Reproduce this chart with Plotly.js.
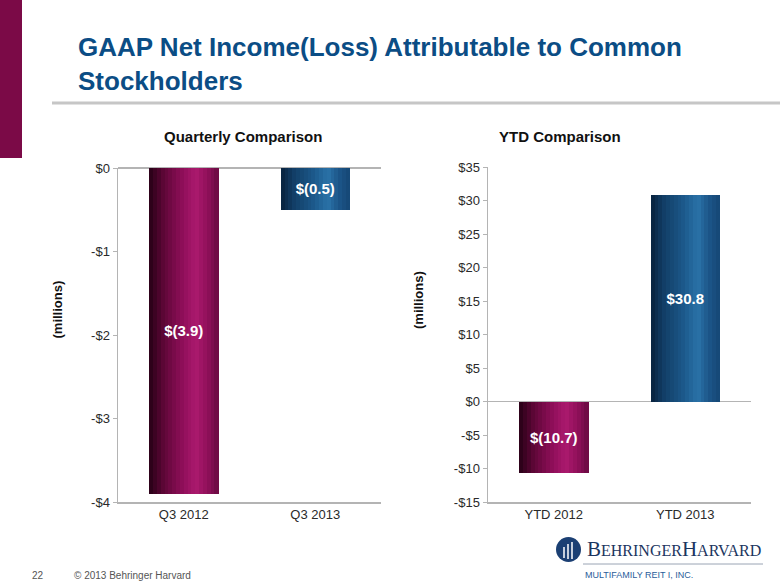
<!DOCTYPE html>
<html>
<head>
<meta charset="utf-8">
<script src="https://cdn.plot.ly/plotly-3.0.1.min.js"></script>
<style>html,body{margin:0;padding:0;background:#fff;}#chart{width:780px;height:585px;}</style>
</head>
<body>
<div id="chart"></div>
<script>
// ---- data ----
var qCategories = ["Q3 2012", "Q3 2013"];
var qValues = [-3.9, -0.5];
var qLabels = ["$(3.9)", "$(0.5)"];
var qTickVals = [0, -1, -2, -3, -4];
var qTickText = ["$0", "-$1", "-$2", "-$3", "-$4"];

var yCategories = ["YTD 2012", "YTD 2013"];
var yValues = [-10.7, 30.8];
var yLabels = ["$(10.7)", "$30.8"];
var yTickVals = [35, 30, 25, 20, 15, 10, 5, 0, -5, -10, -15];
var yTickText = ["$35", "$30", "$25", "$20", "$15", "$10", "$5", "$0", "-$5", "-$10", "-$15"];

// ---- styling helpers ----
var W = 780, H = 585;
function px(x) { return x / W; }
function py(y) { return 1 - y / H; }

function hexToRgb(h) { return [parseInt(h.substr(1,2),16), parseInt(h.substr(3,2),16), parseInt(h.substr(5,2),16)]; }
function grad(stops, t) {
  for (var i = 0; i < stops.length - 1; i++) {
    if (t >= stops[i][0] && t <= stops[i+1][0]) {
      var a = hexToRgb(stops[i][1]), b = hexToRgb(stops[i+1][1]);
      var f = (t - stops[i][0]) / (stops[i+1][0] - stops[i][0]);
      return 'rgb(' + [0,1,2].map(function(k){ return Math.round(a[k] + (b[k]-a[k])*f); }).join(',') + ')';
    }
  }
  return stops[stops.length-1][1];
}
var maroon = [[0,'#260015'],[0.2,'#5c0636'],[0.5,'#920f5c'],[0.68,'#ab1a6e'],[0.85,'#8e0f59'],[1,'#6a0a42']];
var blue = [[0,'#08223d'],[0.2,'#123f68'],[0.5,'#1d5b8e'],[0.68,'#2a72a8'],[0.85,'#1c5588'],[1,'#154674']];

var BW = 0.525, N = 18;
var traces = [];
function addBars(cats, vals, labels, xa, ya) {
  for (var i = 0; i < N; i++) {
    var t = (i + 0.5) / N;
    traces.push({
      type: 'bar', x: cats, y: vals, xaxis: xa, yaxis: ya,
      width: BW / N + 0.002, offset: -BW/2 + i * BW / N,
      marker: { color: vals.map(function(v, j){ return grad(j === 0 ? maroon : blue, t); }), line: {width: 0} },
      hoverinfo: 'skip', showlegend: false
    });
  }
  traces.push({
    type: 'bar', x: cats, y: vals, xaxis: xa, yaxis: ya,
    width: BW, text: labels, textposition: 'inside', insidetextanchor: 'middle',
    textfont: { family: 'Liberation Sans, Arial, sans-serif', size: 15, color: '#ffffff', weight: 'bold' },
    marker: { color: 'rgba(0,0,0,0)', line: {width: 0} },
    hoverinfo: 'skip', showlegend: false
  });
}
addBars(qCategories, qValues, qLabels, 'x', 'y');
addBars(yCategories, yValues, yLabels, 'x2', 'y2');

var axisGrey = '#b4b4b4';
var tickFont = { family: 'Liberation Sans, Arial, sans-serif', size: 13, color: '#2a2a2a' };
function xAxis(dom, anchor) {
  return { domain: dom, anchor: anchor, showline: true, linecolor: axisGrey, linewidth: 1.5,
    ticks: '', tickfont: tickFont, showgrid: false, zeroline: false, fixedrange: true };
}
function yAxis(dom, anchor, range, tv, tt) {
  return { domain: dom, anchor: anchor, range: range, tickvals: tv, ticktext: tt,
    ticks: 'outside', ticklen: 4, tickcolor: axisGrey, tickwidth: 1,
    showline: true, linecolor: axisGrey, linewidth: 1.5, showgrid: false,
    zeroline: true, zerolinecolor: axisGrey, zerolinewidth: 1.5, tickfont: tickFont, fixedrange: true };
}

var layout = {
  width: W, height: H, margin: {l: 0, r: 0, t: 0, b: 0},
  paper_bgcolor: '#ffffff', plot_bgcolor: '#ffffff',
  barmode: 'overlay', bargap: 0,
  xaxis: xAxis([px(118), px(381)], 'y'),
  yaxis: yAxis([py(502), py(168)], 'x', [-4, 0], qTickVals, qTickText),
  xaxis2: xAxis([px(488), px(751)], 'y2'),
  yaxis2: yAxis([py(502), py(167)], 'x2', [-15, 35], yTickVals, yTickText),
  shapes: [
    { type: 'rect', xref: 'paper', yref: 'paper', x0: 0, x1: px(22), y0: py(158), y1: 1, fillcolor: '#7b0a47', line: {width: 0} },
    { type: 'line', xref: 'paper', yref: 'paper', x0: px(52), x1: 1, y0: py(103), y1: py(103), line: {color: '#c6c6c6', width: 3} },
    { type: 'circle', xref: 'paper', yref: 'paper', x0: px(556), x1: px(581), y0: py(562), y1: py(537), fillcolor: '#1b3f73', line: {width: 0} },
    { type: 'line', xref: 'paper', yref: 'paper', x0: px(564), x1: px(564), y0: py(558), y1: py(547), line: {color: '#ffffff', width: 1.5} },
    { type: 'line', xref: 'paper', yref: 'paper', x0: px(568), x1: px(568), y0: py(559), y1: py(544), line: {color: '#ffffff', width: 1.5} },
    { type: 'line', xref: 'paper', yref: 'paper', x0: px(572), x1: px(572), y0: py(559), y1: py(542), line: {color: '#ffffff', width: 1.5} },
    { type: 'line', xref: 'paper', yref: 'paper', x0: px(583), x1: px(763), y0: py(564), y1: py(564), line: {color: '#9aa4b4', width: 1} }
  ],
  annotations: [
    { xref: 'paper', yref: 'paper', x: px(76), y: py(30), xanchor: 'left', yanchor: 'top', align: 'left', showarrow: false,
      text: 'GAAP Net Income(Loss) Attributable to Common<br>Stockholders',
      font: { family: 'Liberation Sans, Arial, sans-serif', size: 26, color: '#0b4d85', weight: 'bold' } },
    { xref: 'paper', yref: 'paper', x: px(243), y: py(136), xanchor: 'center', yanchor: 'middle', showarrow: false,
      text: 'Quarterly Comparison', font: { family: 'Liberation Sans, Arial, sans-serif', size: 15, color: '#111111', weight: 'bold' } },
    { xref: 'paper', yref: 'paper', x: px(560), y: py(136), xanchor: 'center', yanchor: 'middle', showarrow: false,
      text: 'YTD Comparison', font: { family: 'Liberation Sans, Arial, sans-serif', size: 15, color: '#111111', weight: 'bold' } },
    { xref: 'paper', yref: 'paper', x: px(47), y: py(310), yanchor: 'middle', textangle: -90, showarrow: false,
      text: '(millions)', font: { family: 'Liberation Sans, Arial, sans-serif', size: 13, color: '#111111', weight: 'bold' } },
    { xref: 'paper', yref: 'paper', x: px(418), y: py(300), yanchor: 'middle', textangle: -90, showarrow: false,
      text: '(millions)', font: { family: 'Liberation Sans, Arial, sans-serif', size: 13, color: '#111111', weight: 'bold' } },
    { xref: 'paper', yref: 'paper', x: px(30), y: py(575), xanchor: 'left', yanchor: 'middle', showarrow: false,
      text: '22', font: { family: 'Liberation Sans, Arial, sans-serif', size: 10, color: '#555555' } },
    { xref: 'paper', yref: 'paper', x: px(72), y: py(575), xanchor: 'left', yanchor: 'middle', showarrow: false,
      text: '© 2013 Behringer Harvard', font: { family: 'Liberation Sans, Arial, sans-serif', size: 10, color: '#555555' } },
    { xref: 'paper', yref: 'paper', x: px(585), y: py(549), xanchor: 'left', yanchor: 'middle', showarrow: false,
      text: 'B<span style="font-size:16px">EHRINGER</span>H<span style="font-size:16px">ARVARD</span>',
      font: { family: 'Liberation Serif, DejaVu Serif, serif', size: 21, color: '#1b3560' } },
    { xref: 'paper', yref: 'paper', x: px(583), y: py(575), xanchor: 'left', yanchor: 'middle', showarrow: false,
      text: 'MULTIFAMILY REIT I, INC.', font: { family: 'Liberation Sans, sans-serif', size: 9, color: '#2a5d9a' } }
  ]
};

Plotly.newPlot('chart', traces, layout, {displayModeBar: false, staticPlot: true});
</script>
</body>
</html>
